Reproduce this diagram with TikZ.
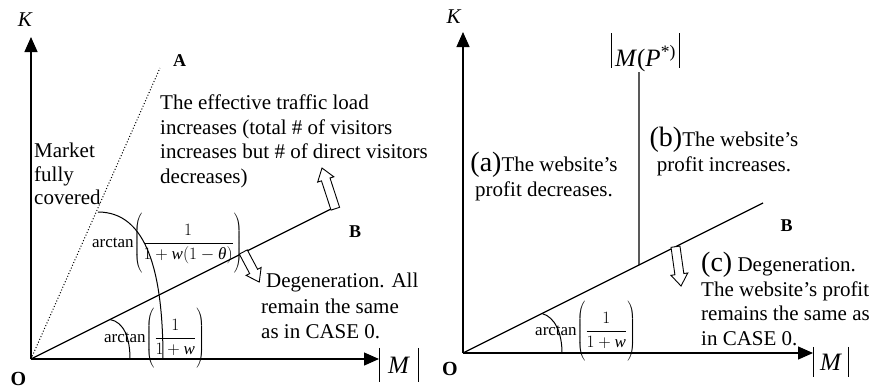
\documentclass[tikz,border=0pt]{standalone}
\usepackage{fontspec}
\setmainfont{Liberation Serif}
\usetikzlibrary{arrows.meta,calc}
\tikzset{
 ax/.style={line width=1.3pt,-{Triangle[length=15pt,width=13pt]}},
 ln/.style={line width=1.2pt},
 arcln/.style={line width=1pt},
 txt/.style={inner sep=0pt,font=\fontsize{21}{24.5}\selectfont},
 lbl/.style={inner sep=0pt,font=\fontsize{18}{20}\selectfont\bfseries},
 olbl/.style={inner sep=0pt,font=\fontsize{20}{22}\selectfont\bfseries},
 klbl/.style={inner sep=0pt,font=\fontsize{21}{24}\selectfont\itshape},
 fraclbl/.style={inner sep=0pt,anchor=west,font=\fontsize{17}{20}\selectfont},
 absbox/.style={inner sep=0pt,font=\fontsize{25}{28}\selectfont,text depth=0pt},
 bar/.style={line width=0.9pt},
 hollow/.style={line width=0.9pt,fill=white},
}
\newcommand\bigtag[1]{{\fontsize{28}{28}\selectfont #1}}
\newcommand\hollowarr[3]{%
 \begin{scope}[shift={#1},rotate=#2]
 \draw[hollow] (0,-4.5) -- ({#3-12},-4.5) -- ({#3-12},-8.5) -- (#3,0) -- ({#3-12},8.5) -- ({#3-12},4.5) -- (0,4.5) -- cycle;
 \end{scope}}
\newcommand\bigpar[3]{\left(\vrule height #1 depth #2 width 0pt\displaystyle #3\right)}
\begin{document}
\begin{tikzpicture}[x=1pt,y=-1pt]
\path[use as bounding box] (0,0) rectangle (877,389);
% ---------------- left panel
\coordinate (O1) at (31,359);
\coordinate (K1) at (31,37);
\coordinate (M1) at (379,359);
\coordinate (A1) at (160,68);
\coordinate (B1) at (331,209);
\coordinate (bigS) at (98,212);
\coordinate (bigE) at (163,359);
\coordinate (smS) at (110,319.5);
\coordinate (smE) at (130,359);
\draw[ax] (O1) -- (K1);
\draw[ax] (O1) -- (M1);
\draw[dotted,line width=1pt] (O1) -- (A1);
\draw[ln] (O1) -- (B1);
\draw[arcln] (bigS) .. controls (146,212) and (163,270) .. (bigE);
\draw[arcln] (smS) .. controls (124,322) and (130,338) .. (smE);
\hollowarr{(335.3,208.7)}{108.1}{42.8}
\hollowarr{(243.3,252)}{-62}{34}
\node[klbl] (K1lab) at (25,20) {K};
\node[olbl] (O1lab) at (18.5,378.5) {O};
\node[lbl] (A1lab) at (179.5,61) {A};
\node[lbl] (B1lab) at (355,231.5) {B};
\node[absbox,minimum width=38pt,minimum height=34pt] (M1lab) at (399,365) {\textit{M}};
\draw[bar] (M1lab.north west) -- (M1lab.south west);
\draw[bar] (M1lab.north east) -- (M1lab.south east);
\node[txt,anchor=north west,align=left] (eff) at (160,95) {The effective traffic load\\increases (total \# of visitors\\increases but \# of direct visitors\\decreases)};
\node[txt,font=\fontsize{21}{23.5}\selectfont,anchor=north west,align=left] (mkt) at (34,143) {Market\\fully\\covered};
\node[txt,font=\fontsize{21}{25.5}\selectfont,anchor=north west,align=left] (deg) at (261,273) {\hspace*{5pt}Degeneration. All\\remain the same\\as in CASE 0.};
\node[fraclbl] (at1) at (92,244) {arctan$\bigpar{25pt}{27pt}{\frac{1}{1+\textit{w}(1-\textit{θ})}}$};
\node[fraclbl] (at2) at (104,339) {arctan$\bigpar{25pt}{27pt}{\frac{1}{1+\textit{w}}}$};
% ---------------- right panel
\coordinate (O2) at (463,353);
\coordinate (K2) at (463,32);
\coordinate (M2) at (813,353);
\coordinate (B2) at (763,203);
\coordinate (Vt) at (639,72);
\coordinate (Vb) at ($(O2)!{(639-463)/300}!(B2)$);
\coordinate (rsS) at (542,313.5);
\coordinate (rsE) at (562,353);
\draw[ax] (O2) -- (K2);
\draw[ax] (O2) -- (M2);
\draw[ln] (O2) -- (B2);
\draw[ln] (Vt) -- (Vb);
\draw[arcln] (rsS) .. controls (555,317) and (562,333) .. (rsE);
\hollowarr{(675.5,246.7)}{-82}{39.7}
\node[klbl] (K2lab) at (453.5,16.5) {K};
\node[olbl] (O2lab) at (450,368.5) {O};
\node[lbl] (B2lab) at (786.5,226) {B};
\node[absbox,minimum width=34pt,minimum height=30pt] (M2lab) at (831,362) {\textit{M}};
\draw[bar] (M2lab.north west) -- (M2lab.south west);
\draw[bar] (M2lab.north east) -- (M2lab.south east);
\node[inner sep=0pt,font=\fontsize{25}{28}\selectfont] (MP) at (645.5,58.5) {\textit{M}(\textit{P}\textsuperscript{*)}};
\draw[bar] ([shift={(-34.5,-25.5)}]MP.center) -- ([shift={(-34.5,9.5)}]MP.center);
\draw[bar] ([shift={(33.5,-25.5)}]MP.center) -- ([shift={(33.5,9.5)}]MP.center);
\node[txt,anchor=north,align=center] (ta) at (544,152) {\bigtag{(a)}The website’s\\profit decreases.};
\node[txt,anchor=north,align=center] (tb) at (724,127) {\bigtag{(b)}The website’s\\profit increases.};
\node[txt,anchor=north west,align=left] (tc) at (701,252) {\bigtag{(c)} Degeneration.\\The website’s profit\\remains the same as\\in CASE 0.};
\node[fraclbl] (at3) at (535,332) {arctan$\bigpar{25pt}{27pt}{\frac{1}{1+\textit{w}}}$};
\end{tikzpicture}
\end{document}
